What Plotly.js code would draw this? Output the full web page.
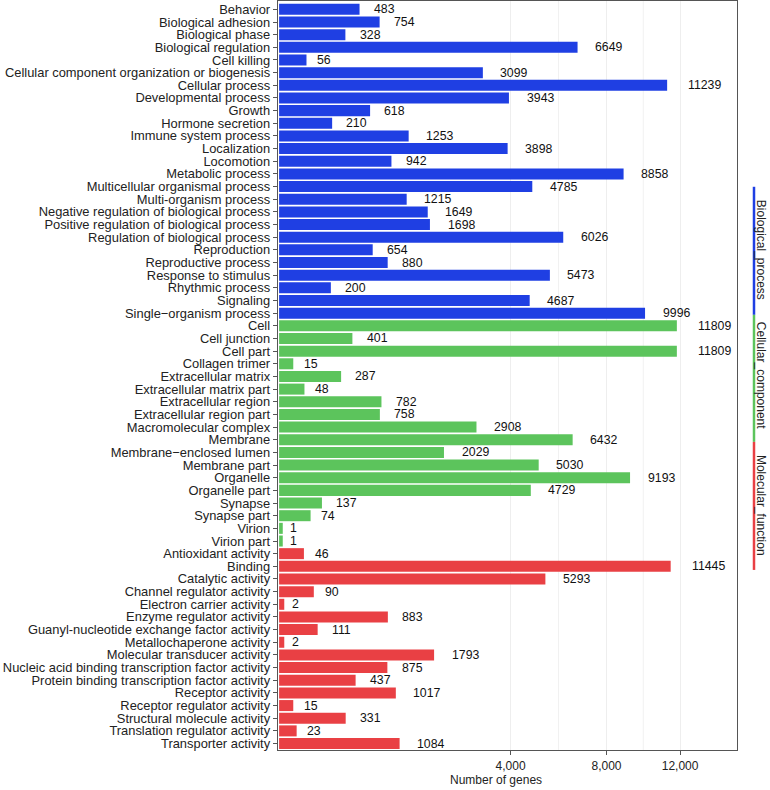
<!DOCTYPE html>
<html><head><meta charset="utf-8">
<script src="https://cdn.plot.ly/plotly-3.0.1.min.js"></script>
<style>body{margin:0;padding:0;background:#fff}#chart{width:770px;height:790px}</style>
</head><body><div id="chart"></div>
<script>
const bpTerms = ["Behavior","Biological adhesion","Biological phase","Biological regulation","Cell killing","Cellular component organization or biogenesis","Cellular process","Developmental process","Growth","Hormone secretion","Immune system process","Localization","Locomotion","Metabolic process","Multicellular organismal process","Multi-organism process","Negative regulation of biological process","Positive regulation of biological process","Regulation of biological process","Reproduction","Reproductive process","Response to stimulus","Rhythmic process","Signaling","Single\u2212organism process"];
const bpCounts = [483,754,328,6649,56,3099,11239,3943,618,210,1253,3898,942,8858,4785,1215,1649,1698,6026,654,880,5473,200,4687,9996];
const ccTerms = ["Cell","Cell junction","Cell part","Collagen trimer","Extracellular matrix","Extracellular matrix part","Extracellular region","Extracellular region part","Macromolecular complex","Membrane","Membrane\u2212enclosed lumen","Membrane part","Organelle","Organelle part","Synapse","Synapse part","Virion","Virion part"];
const ccCounts = [11809,401,11809,15,287,48,782,758,2908,6432,2029,5030,9193,4729,137,74,1,1];
const mfTerms = ["Antioxidant activity","Binding","Catalytic activity","Channel regulator activity","Electron carrier activity","Enzyme regulator activity","Guanyl-nucleotide exchange factor activity","Metallochaperone activity","Molecular transducer activity","Nucleic acid binding transcription factor activity","Protein binding transcription factor activity","Receptor activity","Receptor regulator activity","Structural molecule activity","Translation regulator activity","Transporter activity"];
const mfCounts = [46,11445,5293,90,2,883,111,2,1793,875,437,1017,15,331,23,1084];
const groupNames = ["Biological_process","Cellular_component","Molecular_function"];
const groupColors = ["#1f3fe3","#5cc45c","#e94044"];
const xTickValues = [4000,8000,12000];
const xTickLabels = ["4,000","8,000","12,000"];

const groups = [[bpTerms,bpCounts],[ccTerms,ccCounts],[mfTerms,mfCounts]];
const allTerms = bpTerms.concat(ccTerms, mfTerms);
const sq = v => Math.sqrt(v);
const traces = [];
const annotations = [];
const font = "Liberation Sans, Arial, Helvetica, sans-serif";
groups.forEach((g,i)=>{
  traces.push({type:"bar",orientation:"h",y:g[0],x:g[1].map(sq),
    marker:{color:groupColors[i],line:{width:0}},hoverinfo:"none",showlegend:false});
  g[0].forEach((t,j)=>{
    const s = String(g[1][j]);
    annotations.push({x:sq(g[1][j]),y:t,xref:"x",yref:"y",text:s,
      showarrow:false,xanchor:"left",yanchor:"middle",xshift:2+3.4*s.length,yshift:0,
      font:{family:font,size:12.3,color:"#111"}});
  });
});
const majors = xTickValues.map(sq);
const shapes = [];
[(majors[0]+majors[1])/2,(majors[1]+majors[2])/2].forEach(p=>{
  shapes.push({type:"line",xref:"x",yref:"paper",x0:p,x1:p,y0:0,y1:1,line:{color:"#f1f1f1",width:1},layer:"below"});
});
const H = 790, T = 1.3, B = 40, PH = H - T - B, L = 278, PW = 770 - 278 - 33;
const px = x => (x - L) / PW;
const py = y => (H - B - y) / PH;
const sideSegs = [[187,315],[315,442],[442,570]];
sideSegs.forEach((s,i)=>{
  shapes.push({type:"line",xref:"paper",yref:"paper",x0:px(754),x1:px(754),y0:py(s[0]),y1:py(s[1]),
    line:{color:groupColors[i],width:2.5}});
});
const sideTextY = [250,375,505];
groupNames.forEach((n,i)=>{
  annotations.push({xref:"paper",yref:"paper",x:px(761),y:py(sideTextY[i]),
    text:n,textangle:90,showarrow:false,xanchor:"center",yanchor:"middle",
    font:{family:font,size:12,color:"#222"}});
});
annotations.push({xref:"paper",yref:"paper",x:px(496),y:py(780),text:"Number of genes",
  showarrow:false,xanchor:"center",yanchor:"middle",font:{family:font,size:12,color:"#222"}});

const layout = {
  width:770,height:790,margin:{l:L,r:33,t:T,b:B},
  paper_bgcolor:"#fff",plot_bgcolor:"#fff",
  bargap:0.13,barmode:"overlay",showlegend:false,
  font:{family:font,size:12,color:"#222"},
  xaxis:{range:[-0.3,125.1],tickmode:"array",tickvals:majors,ticktext:xTickLabels,showgrid:true,gridcolor:"#eeeeee",gridwidth:1,
    zeroline:false,showline:true,mirror:true,linecolor:"#555",linewidth:1.3,ticks:"outside",ticklen:4,tickcolor:"#555",
    tickfont:{family:font,size:12,color:"#222"}},
  yaxis:{type:"category",categoryorder:"array",categoryarray:allTerms,tickmode:"array",tickvals:allTerms,ticktext:allTerms,
    range:[58.51,-0.66],showgrid:false,zeroline:false,showline:true,mirror:true,linecolor:"#555",linewidth:1.3,
    ticks:"outside",ticklen:4,tickcolor:"#555",tickfont:{family:font,size:12.9,color:"#222"}},
  shapes:shapes,annotations:annotations
};
Plotly.newPlot("chart",traces,layout,{displayModeBar:false,staticPlot:true});
</script></body></html>
